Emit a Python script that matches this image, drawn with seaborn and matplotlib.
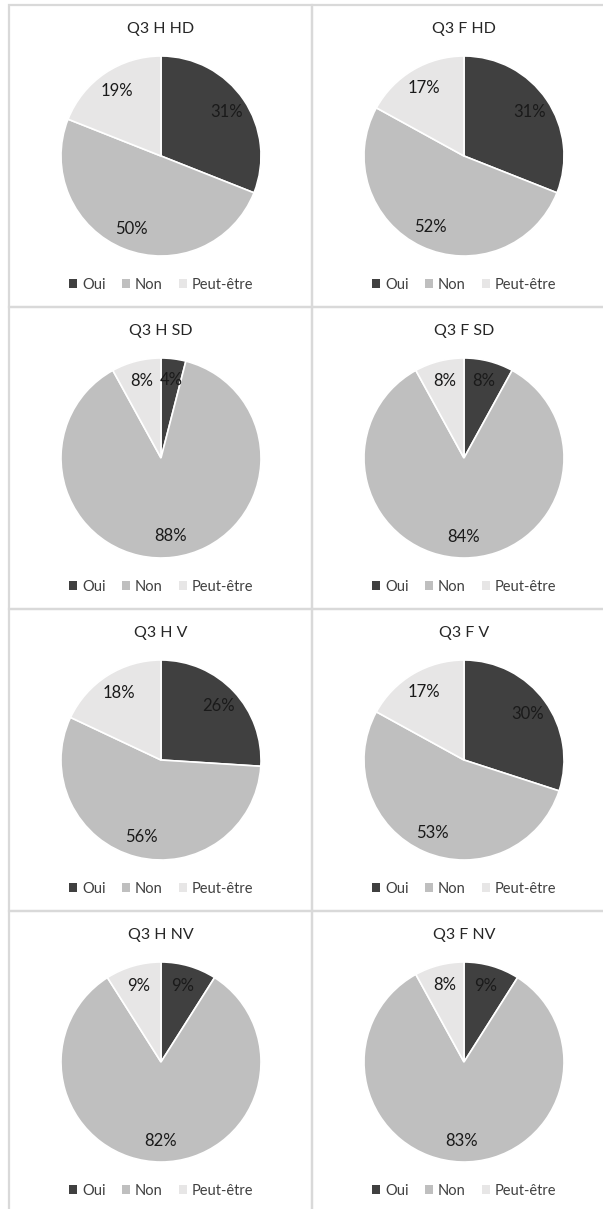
import matplotlib
matplotlib.use("Agg")
import matplotlib.pyplot as plt
from matplotlib.patches import Patch, Rectangle
import seaborn as sns

sns.set_theme(style="white")
plt.rcParams['font.family'] = ['Lato', 'DejaVu Sans']

# Q3 answers, one pie per group
titles = ["Q3 H HD", "Q3 F HD", "Q3 H SD", "Q3 F SD",
          "Q3 H V", "Q3 F V", "Q3 H NV", "Q3 F NV"]
oui = [31, 31, 4, 8, 26, 30, 9, 9]
non = [50, 52, 88, 84, 56, 53, 82, 83]
peut_etre = [19, 17, 8, 8, 18, 17, 9, 8]
categories = ["Oui", "Non", "Peut-être"]
colors = ["#404040", "#BFBFBF", "#E7E6E6"]

W, H = 603, 1209
fig = plt.figure(figsize=(W / 100, H / 100), dpi=100)

for i, title in enumerate(titles):
    row, col = divmod(i, 2)
    x0 = 9 + col * 303
    y0 = 5 + row * 302

    # light grey frame round each chart
    fig.patches.append(Rectangle((x0 / W, 1 - (y0 + 302) / H), 303 / W, 302 / H,
                                 transform=fig.transFigure, fill=False,
                                 edgecolor="#D9D9D9", lw=1.6))

    cx = x0 + 152
    cy = y0 + 151
    ax = fig.add_axes([(cx - 125) / W, 1 - (cy + 125) / H, 250 / W, 250 / H])
    ax.pie([oui[i], non[i], peut_etre[i]], colors=colors, startangle=90,
           counterclock=False, autopct='%.0f%%', pctdistance=0.79,
           wedgeprops=dict(edgecolor='white', linewidth=1.2),
           textprops=dict(color='#1a1a1a', fontsize=12))

    fig.text(cx / W, 1 - (cy - 127) / H, title, ha='center', va='center',
             fontsize=11.5, color='#262626')

    handles = [Patch(facecolor=c, edgecolor='none', label=lab)
               for c, lab in zip(colors, categories)]
    fig.legend(handles=handles, loc='center',
               bbox_to_anchor=(cx / W, 1 - (cy + 129) / H), ncol=3,
               frameon=False, handlelength=0.55, handleheight=0.55,
               handletextpad=0.35, columnspacing=1.1, fontsize=10.5,
               labelcolor='#404040')

fig.savefig("out.png", dpi=100)
